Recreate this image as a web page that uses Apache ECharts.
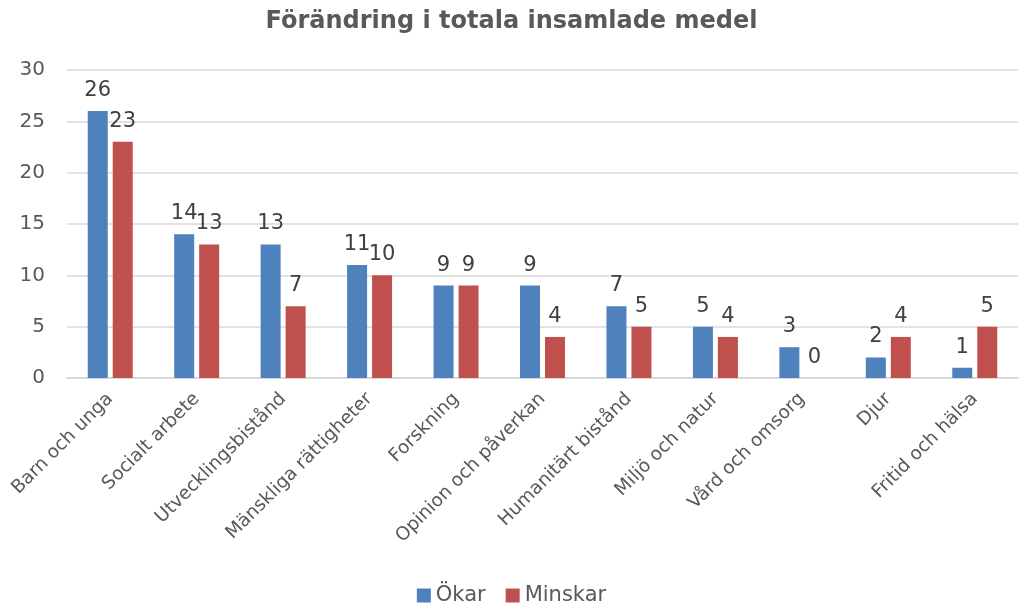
<!DOCTYPE html>
<html>
<head>
<meta charset="utf-8">
<script src="https://cdn.jsdelivr.net/npm/echarts@6/dist/echarts.min.js"></script>
<style>
  html, body { margin: 0; padding: 0; background: #fff; }
  #chart { width: 1023px; height: 607px; }
</style>
</head>
<body>
<div id="chart"></div>
<script>
const categories = ['Barn och unga', 'Socialt arbete', 'Utvecklingsbistånd', 'Mänskliga rättigheter',
  'Forskning', 'Opinion och påverkan', 'Humanitärt bistånd', 'Miljö och natur',
  'Vård och omsorg', 'Djur', 'Fritid och hälsa'];
const okar = [26, 14, 13, 11, 9, 9, 7, 5, 3, 2, 1];
const minskar = [23, 13, 7, 10, 9, 4, 5, 4, 0, 4, 5];

const font = 'DejaVu Sans';
const chart = echarts.init(document.getElementById('chart'));

const labelStyle = {
  show: true,
  position: 'top',
  distance: 10,
  color: '#404040',
  fontSize: 21,
  fontFamily: font
};

chart.setOption({
  title: {
    text: 'Förändring i totala insamlade medel',
    left: 'center',
    top: 5,
    textStyle: { color: '#595959', fontSize: 24, fontWeight: 'bold', fontFamily: font }
  },
  legend: {
    bottom: -4,
    left: 'center',
    itemWidth: 14,
    itemHeight: 14,
    itemGap: 20,
    icon: 'rect',
    textStyle: { color: '#595959', fontSize: 21, fontFamily: font },
    data: ['Ökar', 'Minskar']
  },
  grid: { left: 67, right: 5, top: 70, bottom: 229, containLabel: false },
  xAxis: {
    type: 'category',
    data: categories,
    axisLine: { lineStyle: { color: '#d9d9d9', width: 2 } },
    axisTick: { show: false },
    axisLabel: {
      rotate: 45,
      color: '#595959',
      fontSize: 18.5,
      fontFamily: font,
      interval: 0,
      margin: 18
    }
  },
  yAxis: {
    type: 'value',
    min: 0,
    max: 30,
    interval: 5,
    axisLine: { show: false },
    axisTick: { show: false },
    axisLabel: { color: '#595959', fontSize: 20, fontFamily: font, margin: 22 },
    splitLine: { lineStyle: { color: '#d9d9d9', width: 1.5 } }
  },
  series: [
    {
      name: 'Ökar',
      type: 'bar',
      data: okar,
      barWidth: 20,
      barGap: '25%',
      itemStyle: { color: '#4F81BD' },
      label: labelStyle
    },
    {
      name: 'Minskar',
      type: 'bar',
      data: minskar,
      barWidth: 20,
      itemStyle: { color: '#C0504D' },
      label: labelStyle
    }
  ]
});
</script>
</body>
</html>
